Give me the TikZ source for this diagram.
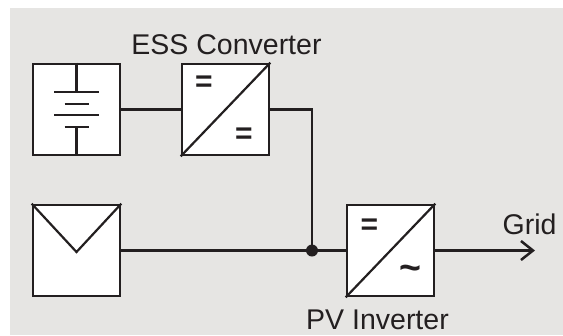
\documentclass[tikz,border=0pt]{standalone}
\usepackage{fontspec}
\setmainfont{Liberation Sans}
\usepackage{xcolor}
\usepackage{tikz}
\usetikzlibrary{arrows.meta, positioning, calc}
\definecolor{bggray}{RGB}{230,229,227}
\definecolor{ink}{RGB}{35,31,32}

\begin{document}
\begin{tikzpicture}
  [
    x=1bp, y=-1bp,
    font=\fontsize{28.5bp}{34bp}\selectfont,
    Box/.style={rectangle, draw=ink, fill=white, line width=2.7bp, minimum width=87bp, minimum height=91bp, inner sep=0pt},
    Dot/.style={circle, fill=ink, inner sep=0pt, minimum size=12bp},
    Sign/.style={inner sep=0pt, text=ink, font=\fontsize{30bp}{34bp}\selectfont\bfseries},
    Wire/.style={draw=ink, line width=2.5bp},
    Label/.style={anchor=base, inner sep=0pt, text=ink}
  ]
  \useasboundingbox (0,0) rectangle (563,335);
  \fill[bggray] (10,8) rectangle (563,335);
  % Nodes
  \node[Box] (bat) at (76.5, 109.5) {};
  \node[Box] (ess) at (225.5, 109.5) {};
  \node[Box] (pv) at (76.5, 250.5) {};
  \node[Box] (inv) at (390.5, 250.5) {};
  \node[Dot] (jn) at (312, 250.5) {};
  \coordinate (grid) at (535, 250.5);
  \node[Label] (essname) at (226.5, 54) {ESS Converter};
  \node[Label] (invname) at (377.5, 329) {PV Inverter};
  \node[Label] (gridname) at (529.5, 234) {Grid};
  % Symbols
  \node[Sign] (essin) at (204, 84) {=};
  \node[Sign] (essout) at (244, 136) {=};
  \node[Sign] (invin) at (369.5, 226.5) {=};
  \node[Sign, scale=1.25] (invout) at (410.5, 273) {\textasciitilde};
  \draw[ink, line width=2.2bp] (ess.south west) -- (ess.north east);
  \draw[ink, line width=2.2bp] (inv.south west) -- (inv.north east);
  \draw[ink, line width=2.5bp] (bat.north) -- ($(bat.center)+(0,-17.5)$);
  \draw[ink, line width=2.5bp] ($(bat.center)+(0,17.5)$) -- (bat.south);
  \draw[ink, line width=2.8bp] ($(bat.center)+(-22.5,-17.5)$) -- ++(45,0);
  \draw[ink, line width=2.8bp] ($(bat.center)+(-12,-5.5)$) -- ++(24,0);
  \draw[ink, line width=2.8bp] ($(bat.center)+(-22.5,5.5)$) -- ++(45,0);
  \draw[ink, line width=2.8bp] ($(bat.center)+(-12,17.5)$) -- ++(24,0);
  \draw[ink, line width=2.2bp, line join=miter] (pv.north west) -- ($(pv.center)+(0,1.5)$) -- (pv.north east);
  % Lines
  \path[Wire] (bat) -- (ess);
  \path[Wire] (ess.east) -| (jn.center);
  \path[Wire] (pv) -- (jn.center);
  \path[Wire] (jn.center) -- (inv);
  \path[Wire, -{Straight Barb[length=12bp, width=19bp, line width=2.5bp]}] (inv) -- (grid);
\end{tikzpicture}
\end{document}
